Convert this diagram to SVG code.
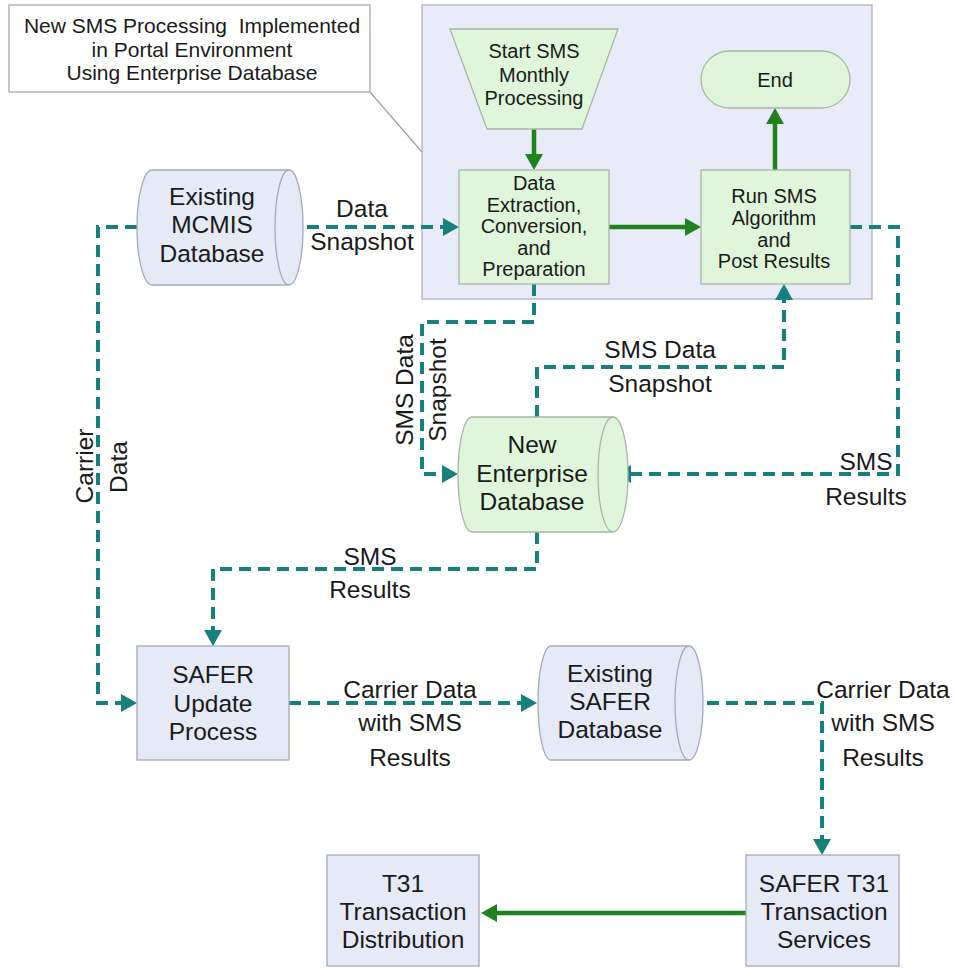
<svg xmlns="http://www.w3.org/2000/svg" width="956" height="968" viewBox="0 0 956 968">
<defs>
<style>
text{font-family:"Liberation Sans",Arial,sans-serif;fill:#1a1a1a;text-anchor:middle}
.big{font-size:24.5px}
.sm{font-size:20px}
.lbl{font-size:24.5px}
.call{font-size:21px}
.gn{fill:#dff6db;stroke:#a9b5a9;stroke-width:1.3}
.bn{fill:#e6e9f6;stroke:#a7a9b7;stroke-width:1.3}
.dash{fill:none;stroke:#17807a;stroke-width:4;stroke-dasharray:12 7}
.solid{fill:none;stroke:#1f821f;stroke-width:4.5}
</style>
<marker id="ta" viewBox="0 0 16 18" refX="0" refY="9" markerWidth="16" markerHeight="18" markerUnits="userSpaceOnUse" orient="auto"><path d="M0,0 L16,9 L0,18 Z" fill="#17807a"/></marker>
<marker id="ga" viewBox="0 0 16 18" refX="0" refY="9" markerWidth="16" markerHeight="18" markerUnits="userSpaceOnUse" orient="auto"><path d="M0,0 L16,9 L0,18 Z" fill="#1f821f"/></marker>
</defs>
<rect width="956" height="968" fill="#ffffff"/>

<g id="portal">
<rect x="422" y="5" width="450" height="294" fill="#e9ecf8" stroke="#b3b3b8" stroke-width="1.3"/>
</g>

<g id="callout">
<line x1="370" y1="92" x2="422" y2="152" stroke="#a0a0a0" stroke-width="1.2"/>
<rect x="9" y="5" width="361" height="87" fill="#ffffff" stroke="#a0a0a0" stroke-width="1.2"/>
<text class="call" x="192" y="33" xml:space="preserve">New SMS Processing  Implemented</text>
<text class="call" x="192" y="57">in Portal Environment</text>
<text class="call" x="192" y="80">Using Enterprise Database</text>
</g>

<g id="connectors">
<path class="solid" d="M534,129 V154" marker-end="url(#ga)"/>
<path class="solid" d="M609,227 H685" marker-end="url(#ga)"/>
<path class="solid" d="M775,170 V124" marker-end="url(#ga)"/>
<path class="solid" d="M746,913 H497" marker-end="url(#ga)"/>
<path class="dash" d="M288,227 H443" marker-end="url(#ta)"/>
<path class="dash" d="M137,227 H98 V703 H121" marker-end="url(#ta)"/>
<path class="dash" d="M534,284 V322 H422 V474 H442" marker-end="url(#ta)"/>
<path class="dash" d="M537,417 V367 H784 V300" marker-end="url(#ta)"/>
<path class="dash" d="M850,227 H898 V474 H631" marker-end="url(#ta)"/>
<path class="dash" d="M537,532 V569 H213 V630" marker-end="url(#ta)"/>
<path class="dash" d="M289,703 H521" marker-end="url(#ta)"/>
<path class="dash" d="M688,703 H822 V839" marker-end="url(#ta)"/>
<text class="lbl" x="362" y="217">Data</text>
<text class="lbl" x="362" y="250">Snapshot</text>
<text class="lbl" transform="translate(93,466) rotate(-90)">Carrier</text>
<text class="lbl" transform="translate(127,467) rotate(-90)">Data</text>
<text class="lbl" transform="translate(413,390) rotate(-90)">SMS Data</text>
<text class="lbl" transform="translate(446,390) rotate(-90)">Snapshot</text>
<text class="lbl" x="660" y="358">SMS Data</text>
<text class="lbl" x="660" y="392">Snapshot</text>
<text class="lbl" x="866" y="470">SMS</text>
<text class="lbl" x="866" y="505">Results</text>
<text class="lbl" x="370" y="565">SMS</text>
<text class="lbl" x="370" y="598">Results</text>
<text class="lbl" x="410" y="698">Carrier Data</text>
<text class="lbl" x="410" y="731">with SMS</text>
<text class="lbl" x="410" y="766">Results</text>
<text class="lbl" x="883" y="698">Carrier Data</text>
<text class="lbl" x="883" y="731">with SMS</text>
<text class="lbl" x="883" y="766">Results</text>
</g>

<g id="start">
<path class="gn" d="M450,29 H618 L582,129 H487 Z"/>
<text class="sm" x="534" y="58">Start SMS</text>
<text class="sm" x="534" y="82">Monthly</text>
<text class="sm" x="534" y="105">Processing</text>
</g>

<g id="end">
<rect class="gn" x="701" y="51" width="149" height="57" rx="28.5"/>
<text class="sm" x="775" y="87">End</text>
</g>

<g id="extraction">
<rect class="gn" x="459" y="170" width="150" height="114"/>
<text class="sm" x="534" y="190">Data</text>
<text class="sm" x="534" y="212">Extraction,</text>
<text class="sm" x="534" y="233">Conversion,</text>
<text class="sm" x="534" y="255">and</text>
<text class="sm" x="534" y="276">Preparation</text>
</g>

<g id="runsms">
<rect class="gn" x="701" y="170" width="149" height="114"/>
<text class="sm" x="774" y="203">Run SMS</text>
<text class="sm" x="774" y="225">Algorithm</text>
<text class="sm" x="774" y="247">and</text>
<text class="sm" x="774" y="268">Post Results</text>
</g>

<g id="mcmis">
<path class="bn" d="M152,170 H289 A14,57.5 0 0 1 289,285 H152 A15,57.5 0 0 1 152,170 Z"/>
<path d="M289,170 A14,57.5 0 0 0 289,285" fill="none" stroke="#a7a9b7" stroke-width="1.3"/>
<text class="big" x="212" y="205">Existing</text>
<text class="big" x="212" y="233">MCMIS</text>
<text class="big" x="212" y="262">Database</text>
</g>

<g id="enterprise">
<path class="gn" d="M472,417 H613 A15,57.5 0 0 1 613,532 H472 A14,57.5 0 0 1 472,417 Z"/>
<path d="M613,417 A15,57.5 0 0 0 613,532" fill="none" stroke="#a9b5a9" stroke-width="1.3"/>
<text class="big" x="532" y="453">New</text>
<text class="big" x="532" y="482">Enterprise</text>
<text class="big" x="532" y="510">Database</text>
</g>

<g id="saferupdate">
<rect class="bn" x="137" y="646" width="152" height="114"/>
<text class="big" x="213" y="683">SAFER</text>
<text class="big" x="213" y="712">Update</text>
<text class="big" x="213" y="740">Process</text>
</g>

<g id="saferdb">
<path class="bn" d="M551,646 H689 A14,57 0 0 1 689,760 H551 A13,57 0 0 1 551,646 Z"/>
<path d="M689,646 A14,57 0 0 0 689,760" fill="none" stroke="#a7a9b7" stroke-width="1.3"/>
<text class="big" x="610" y="682">Existing</text>
<text class="big" x="610" y="710">SAFER</text>
<text class="big" x="610" y="738">Database</text>
</g>

<g id="t31services">
<rect class="bn" x="746" y="855" width="153" height="111"/>
<text class="big" x="824" y="892">SAFER T31</text>
<text class="big" x="824" y="920">Transaction</text>
<text class="big" x="824" y="948">Services</text>
</g>

<g id="t31dist">
<rect class="bn" x="327" y="855" width="152" height="111"/>
<text class="big" x="403" y="892">T31</text>
<text class="big" x="403" y="920">Transaction</text>
<text class="big" x="403" y="948">Distribution</text>
</g>
</svg>
